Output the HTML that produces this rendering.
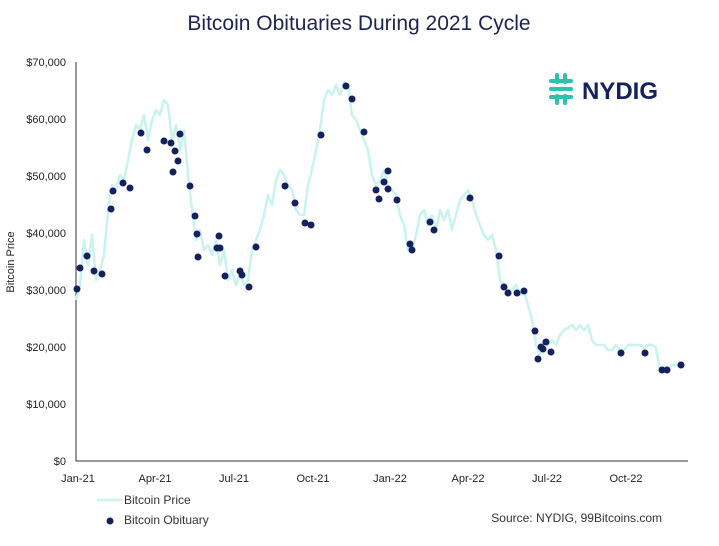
<!DOCTYPE html>
<html><head><meta charset="utf-8"><style>
body{margin:0;background:#fff;}
svg{display:block;font-family:"Liberation Sans",sans-serif;}
</style></head><body>
<svg width="719" height="546" viewBox="0 0 719 546">
<rect width="719" height="546" fill="#fff"/>
<text x="359" y="30" text-anchor="middle" font-size="21" fill="#1b2552">Bitcoin Obituaries During 2021 Cycle</text>
<g font-size="11" fill="#222" text-anchor="end">
<text x="66" y="465">$0</text><text x="66" y="408">$10,000</text><text x="66" y="351">$20,000</text><text x="66" y="294">$30,000</text><text x="66" y="237">$40,000</text><text x="66" y="180">$50,000</text><text x="66" y="123">$60,000</text><text x="66" y="66">$70,000</text>
</g>
<text transform="translate(14,262) rotate(-90)" text-anchor="middle" font-size="11" fill="#222">Bitcoin Price</text>
<g font-size="11" fill="#222" text-anchor="middle">
<text x="78" y="482">Jan-21</text><text x="155" y="482">Apr-21</text><text x="234" y="482">Jul-21</text><text x="313" y="482">Oct-21</text><text x="390" y="482">Jan-22</text><text x="468" y="482">Apr-22</text><text x="547" y="482">Jul-22</text><text x="626" y="482">Oct-22</text>
</g>
<polyline fill="none" stroke="#333" stroke-width="1" points="76,62 76,461 688,461"/>
<polyline fill="none" stroke="#c9f3ee" stroke-width="2.5" stroke-linejoin="round" points="76,300 80,285 84,240 88,265 92,235 96,280 100,270 104,255 108,210 112,185 116,190 120,175 124,180 128,160 132,140 136,125 140,130 144,115 148,140 152,120 156,110 160,115 164,100 168,105 172,140 176,125 180,150 184,130 188,175 192,210 196,240 200,230 204,250 208,245 212,255 216,240 220,265 224,250 228,280 232,270 236,285 240,275 244,285 248,280 252,250 256,240 260,230 264,215 268,195 272,205 276,180 280,170 284,175 288,185 292,190 296,210 300,215 304,215 308,185 312,170 316,150 320,130 324,100 328,90 332,95 336,85 340,95 344,82 348,85 352,115 356,120 360,130 364,140 368,150 372,175 376,185 380,180 384,170 388,185 392,190 396,195 400,215 404,225 408,250 412,250 416,235 420,215 424,210 428,225 432,215 436,230 440,210 444,220 448,210 452,230 456,215 460,200 464,195 468,190 472,200 476,215 480,225 484,235 488,240 492,235 496,250 500,280 504,285 508,290 512,290 516,285 520,295 524,290 528,305 532,320 536,345 540,355 544,340 548,345 552,340 556,345 560,335 564,330 568,328 572,325 576,330 580,325 584,330 588,325 592,340 596,345 600,345 604,345 608,350 612,350 616,345 620,350 624,350 628,345 632,345 636,345 640,345 644,348 648,345 652,345 656,348 660,370 664,370 668,370 672,365 676,365 680,363"/>
<g fill="#14215e">
<circle cx="77" cy="289" r="3.5"/><circle cx="80" cy="268" r="3.5"/><circle cx="87" cy="256" r="3.5"/><circle cx="94" cy="271" r="3.5"/><circle cx="102" cy="274" r="3.5"/><circle cx="111" cy="209" r="3.5"/><circle cx="113" cy="191" r="3.5"/><circle cx="123" cy="183" r="3.5"/><circle cx="130" cy="188" r="3.5"/><circle cx="141" cy="133" r="3.5"/><circle cx="147" cy="150" r="3.5"/><circle cx="164" cy="141" r="3.5"/><circle cx="171" cy="143" r="3.5"/><circle cx="173" cy="172" r="3.5"/><circle cx="175" cy="151" r="3.5"/><circle cx="178" cy="161" r="3.5"/><circle cx="180" cy="134" r="3.5"/><circle cx="190" cy="186" r="3.5"/><circle cx="195" cy="216" r="3.5"/><circle cx="197" cy="234" r="3.5"/><circle cx="198" cy="257" r="3.5"/><circle cx="217" cy="248" r="3.5"/><circle cx="219" cy="236" r="3.5"/><circle cx="220" cy="248" r="3.5"/><circle cx="225" cy="276" r="3.5"/><circle cx="240" cy="271" r="3.5"/><circle cx="242" cy="275" r="3.5"/><circle cx="249" cy="287" r="3.5"/><circle cx="256" cy="247" r="3.5"/><circle cx="285" cy="186" r="3.5"/><circle cx="295" cy="203" r="3.5"/><circle cx="305" cy="223" r="3.5"/><circle cx="311" cy="225" r="3.5"/><circle cx="321" cy="135" r="3.5"/><circle cx="346" cy="86" r="3.5"/><circle cx="352" cy="99" r="3.5"/><circle cx="364" cy="132" r="3.5"/><circle cx="376" cy="190" r="3.5"/><circle cx="379" cy="199" r="3.5"/><circle cx="384" cy="182" r="3.5"/><circle cx="388" cy="171" r="3.5"/><circle cx="388" cy="189" r="3.5"/><circle cx="397" cy="200" r="3.5"/><circle cx="410" cy="244" r="3.5"/><circle cx="412" cy="250" r="3.5"/><circle cx="430" cy="222" r="3.5"/><circle cx="434" cy="230" r="3.5"/><circle cx="470" cy="198" r="3.5"/><circle cx="499" cy="256" r="3.5"/><circle cx="504" cy="287" r="3.5"/><circle cx="508" cy="293" r="3.5"/><circle cx="517" cy="293" r="3.5"/><circle cx="524" cy="291" r="3.5"/><circle cx="535" cy="331" r="3.5"/><circle cx="538" cy="359" r="3.5"/><circle cx="541" cy="347" r="3.5"/><circle cx="543" cy="349" r="3.5"/><circle cx="546" cy="342" r="3.5"/><circle cx="551" cy="352" r="3.5"/><circle cx="621" cy="353" r="3.5"/><circle cx="645" cy="353" r="3.5"/><circle cx="662" cy="370" r="3.5"/><circle cx="667" cy="370" r="3.5"/><circle cx="681" cy="365" r="3.5"/>
</g>
<line x1="97" y1="500" x2="122" y2="500" stroke="#c9f3ee" stroke-width="2.5"/>
<text x="124" y="504" font-size="12" fill="#333">Bitcoin Price</text>
<circle cx="110" cy="521" r="3.5" fill="#14215e"/>
<text x="124" y="524" font-size="12" fill="#333">Bitcoin Obituary</text>
<text x="662" y="522" text-anchor="end" font-size="12" fill="#333">Source: NYDIG, 99Bitcoins.com</text>
<g fill="none" stroke="#2cc3ad" stroke-width="4" stroke-linecap="round">
<path d="M551 81 H571 M551 89 H571 M551 97 H571"/>
<path d="M557 75 V82 M565 96 V103 M557 96 V103 M565 75 V82"/>
</g>
<text x="582" y="99" font-size="24" font-weight="bold" fill="#14215e">NYDIG</text>
</svg>
</body></html>
